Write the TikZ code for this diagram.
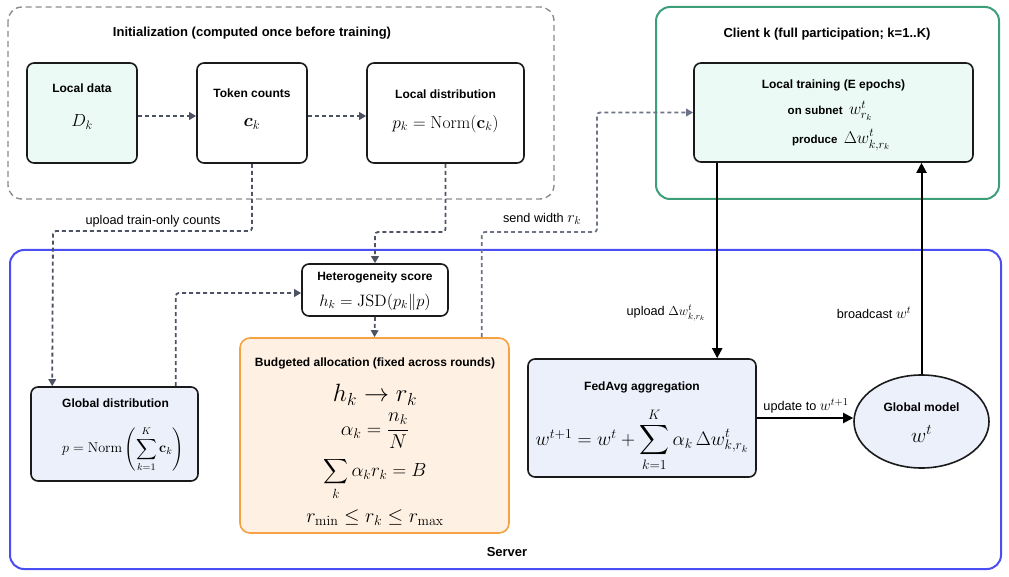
\RequirePackage{fix-cm}
\documentclass[tikz,border=0pt]{standalone}
\usepackage{amsmath}
\usepackage[no-math]{fontspec}
\setmainfont{Liberation Sans}
\usetikzlibrary{arrows.meta,shapes.geometric,calc}
\definecolor{conn}{HTML}{4D5362}
\definecolor{initc}{HTML}{8C8C8C}
\definecolor{sendc}{HTML}{6E7487}
\definecolor{serverc}{HTML}{4A4DF2}
\definecolor{clientc}{HTML}{3D9E7A}
\definecolor{orangec}{HTML}{F5A243}
\definecolor{orangef}{HTML}{FEF1E3}
\definecolor{mintf}{HTML}{EBFAF4}
\definecolor{bluef}{HTML}{ECF0FB}
\definecolor{boxc}{HTML}{1A1A1A}
\tikzset{
  panel/.style={draw=boxc, line width=1.6pt, rounded corners=7pt, inner sep=0pt},
  ttl/.style={font=\bfseries\fontsize{12}{14}\selectfont, inner sep=0pt},
  gttl/.style={font=\bfseries\fontsize{13}{15}\selectfont, inner sep=0pt},
  lbl/.style={font=\fontsize{12.7}{14}\selectfont, inner sep=0pt},
  mth/.style={inner sep=0pt},
  dconn/.style={draw=conn, line width=1.8pt, dash pattern=on 4pt off 3pt, rounded corners=3pt, -{Triangle[length=7pt,width=7.5pt]}},
  sconn/.style={draw=black, line width=2pt, -{Triangle[length=10pt,width=10pt]}},
}
\begin{document}
\begin{tikzpicture}[x=1pt,y=-1pt]
\useasboundingbox (0,0) rectangle (1009,577);
% group frames
\draw[initc, line width=1.4pt, dash pattern=on 6pt off 4pt, rounded corners=14pt] (8,7) rectangle (554,199);
\node[gttl] (inittitle) at (252,33) {Initialization (computed once before training)};
\draw[clientc, line width=2pt, rounded corners=14pt] (656,7) rectangle (999,199);
\node[gttl] (clienttitle) at (827,34) {Client k (full participation; k=1..K)};
\draw[serverc, line width=2pt, rounded corners=14pt] (10,250) rectangle (1001,569);
\node[gttl] (servertitle) at (507,552) {Server};
% init boxes
\node[panel, fill=mintf, minimum width=110pt, minimum height=100pt] (ldata) at (82,113) {};
\node[ttl] (ldatat) at (82,88) {Local data};
\node[mth] (ldatam) at (82,122) {\fontsize{17.5}{20}\selectfont$D_k$};
\node[panel, fill=white, minimum width=110pt, minimum height=100pt] (token) at (252,113) {};
\node[ttl] (tokent) at (252,93) {Token counts};
\node[mth] (tokenm) at (252,124) {\fontsize{18}{20}\selectfont$\boldsymbol{c}_k$};
\node[panel, fill=white, minimum width=157pt, minimum height=100pt] (ldist) at (445.5,113) {};
\node[ttl] (ldistt) at (445.5,94) {Local distribution};
\node[mth] (ldistm) at (445.5,124) {\fontsize{17.5}{20}\selectfont$p_k=\mathrm{Norm}(\mathbf{c}_k)$};
% client
\node[panel, fill=mintf, minimum width=279pt, minimum height=99pt] (train) at (833.5,112.5) {};
\node[ttl] (traint) at (833.5,85) {Local training (E epochs)};
\node[mth] (trainm1) at (830,111) {\bfseries\fontsize{11.5}{13}\selectfont on subnet\ \ \fontsize{17}{19}\selectfont$w^{t}_{r_k}$};
\node[mth] (trainm2) at (841,140) {\bfseries\fontsize{11.5}{13}\selectfont produce\ \ \fontsize{17}{19}\selectfont$\Delta w^{t}_{k,r_k}$};
% server
\node[panel, fill=white, minimum width=146pt, minimum height=52pt] (hetero) at (375,290) {};
\node[ttl] (heterot) at (375,277) {Heterogeneity score};
\node[mth] (heterom) at (375,302) {\fontsize{16.5}{19}\selectfont$h_k=\mathrm{JSD}(p_k\|p)$};
\node[draw=orangec, line width=1.6pt, rounded corners=10pt, fill=orangef, minimum width=269pt, minimum height=195pt, inner sep=0pt] (budget) at (374.5,435.5) {};
\node[ttl] (budgett) at (375,363) {Budgeted allocation (fixed across rounds)};
\node[mth] (budm1) at (375,395) {\fontsize{25}{27}\selectfont$h_k\rightarrow r_k$};
\node[mth] (budm2) at (375,431) {\fontsize{20}{24}\selectfont$\alpha_k=\dfrac{n_k}{N}$};
\node[mth] (budm3) at (375,479) {\fontsize{19}{23}\selectfont$\displaystyle\sum_k \alpha_k r_k = B$};
\node[mth] (budm4) at (375,518) {\fontsize{20}{24}\selectfont$r_{\min}\le r_k\le r_{\max}$};
\node[panel, fill=bluef, minimum width=167pt, minimum height=94pt] (gdist) at (114.5,434) {};
\node[ttl] (gdistt) at (115.5,403) {Global distribution};
\node[mth] (gdistm) at (123,449) {\fontsize{14.2}{17}\selectfont$p=\mathrm{Norm}\left(\displaystyle\sum_{k=1}^{K}\mathbf{c}_k\right)$};
\node[panel, fill=bluef, minimum width=228pt, minimum height=118pt] (fedavg) at (642,418) {};
\node[ttl] (fedavgt) at (642,387) {FedAvg aggregation};
\node[mth] (fedavgm) at (642,440) {\fontsize{19.5}{23}\selectfont$w^{t+1}=w^{t}+\displaystyle\sum_{k=1}^{K}\alpha_k\,\Delta w^{t}_{k,r_k}$};
\node[draw=boxc, line width=1.6pt, fill=bluef, ellipse, minimum width=135pt, minimum height=93pt, inner sep=0pt] (gm) at (921.5,421.5) {};
\node[ttl] (gmt) at (921.5,407) {Global model};
\node[mth] (gmm) at (921.5,434) {\fontsize{21}{24}\selectfont$w^{t}$};
% connectors
\draw[dconn] ([yshift=-3pt]ldata.east) -- ([yshift=-3pt]token.west);
\draw[dconn] ([yshift=-3pt]token.east) -- ([yshift=-3pt]ldist.west);
\coordinate (c1) at (53,231);
\draw[dconn] (token.south) |- (c1) -- ([xshift=22pt]gdist.north west);
\node[lbl] (l1) at (153,221) {upload train-only counts};
\coordinate (c2) at (375,232);
\draw[dconn] (ldist.south) |- (c2) -- (hetero.north);
\draw[dconn] ([xshift=-23pt]gdist.north east) |- ([yshift=-3pt]hetero.west);
\draw[dconn] (hetero.south) -- (budget.north);
\coordinate (c3) at (597,232);
\draw[dconn, draw=sendc] ([xshift=-28pt]budget.north east) |- (c3) |- (train.west);
\node[lbl] (l2) at (542,219) {send width \fontsize{16}{18}\selectfont$r_k$};
\draw[sconn] ([xshift=24pt]train.south west) -- ([xshift=24pt]train.south west |- fedavg.north);
\node[lbl] (l3) at (666,313) {upload \fontsize{13}{16}\selectfont$\Delta w^{t}_{k,r_k}$};
\draw[sconn] (gm.north) -- (gm.north |- train.south);
\node[lbl] (l4) at (874,313) {broadcast \fontsize{15}{17}\selectfont$w^{t}$};
\draw[sconn] (fedavg.east) -- (fedavg.east -| gm.west);
\node[lbl] (l5) at (806,406) {update to \fontsize{15}{17}\selectfont$w^{t+1}$};
\end{tikzpicture}
\end{document}
